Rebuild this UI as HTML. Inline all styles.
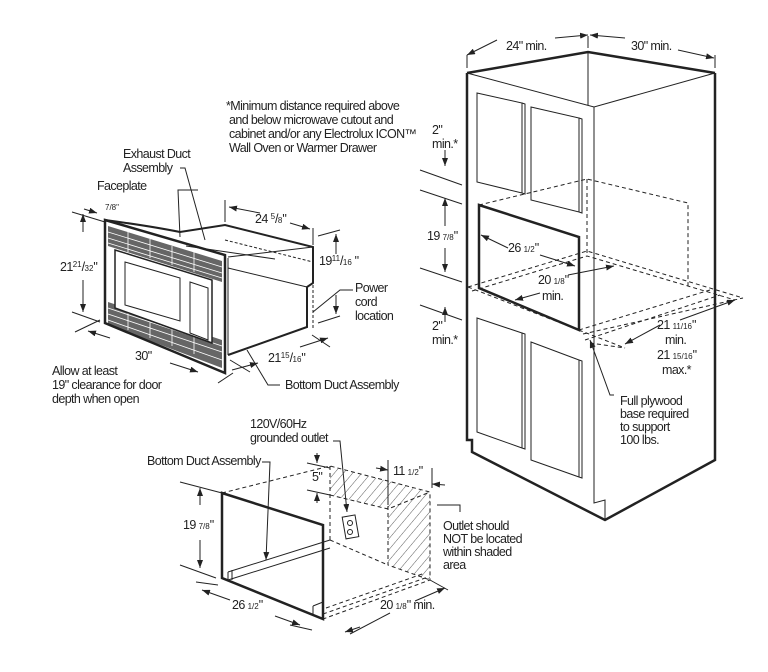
<!DOCTYPE html>
<html><head><meta charset="utf-8"><style>
html,body{margin:0;padding:0;background:#fff;}
svg{display:block}
text{font-family:"Liberation Sans",sans-serif;font-size:12.5px;letter-spacing:-0.6px;fill:#222}
.s{font-size:8px;letter-spacing:0}
</style></head><body>
<svg width="768" height="672" viewBox="0 0 768 672" xmlns="http://www.w3.org/2000/svg">
<defs>
<marker id="a" markerWidth="8" markerHeight="6" refX="8" refY="3" orient="auto-start-reverse"><path d="M0,0 L8,3 L0,6 z" fill="#222"/></marker>
<pattern id="h" width="7" height="7" patternUnits="userSpaceOnUse" patternTransform="rotate(40)"><line x1="0" y1="0" x2="0" y2="7" stroke="#333" stroke-width="0.8"/></pattern>
</defs>
<g fill="none" stroke="#222" stroke-width="1">
<!-- Cabinet -->
<path d="M467,73 L588,52 L715,73" stroke-width="2.5"/>
<path d="M467,73 L467,440 L472,440 L472,452 L605,520 L715,460 L715,73" stroke-width="2.5"/>
<path d="M467,73 L594,107 L715,73"/>
<path d="M594,107 L594,503 L605,500 L605,520"/>
<line x1="588" y1="52" x2="588" y2="105"/>
<path d="M477,93 L522,103 L522,193 L477,182 Z M522,103 L525,104 L525,194 L522,193"/>
<path d="M531,107 L579,118 L579,212 L531,200 Z M579,118 L582,119 L582,213 L579,212"/>
<path d="M477,318 L522,333 L522,448 L477,432 Z M522,333 L525,334 L525,449 L522,448"/>
<path d="M531,342 L579,360 L579,477 L531,460 Z M579,360 L582,361 L582,478 L579,477"/>
<path d="M479,205 L579,237 L579,330 L479,288 Z" stroke-width="2.5"/>
<g stroke-dasharray="4,3">
<path d="M479,205 L587,179 L688,203 L688,288"/>
<path d="M587,179 L587,255"/>
<path d="M468,287 L587,251 L743,298"/>
<path d="M472,291 L587,256 L735,300"/>
<path d="M579,330 L710,290"/>
<path d="M585,340 L720,295"/>
<path d="M583,334 L743,298"/>
<path d="M468,287 L625,348"/>
<path d="M590,343 L625,348"/>
</g>
<line x1="420" y1="170" x2="462" y2="185"/>
<line x1="420" y1="190" x2="462" y2="204"/>
<line x1="420" y1="268" x2="462" y2="282"/>
<line x1="420" y1="305" x2="462" y2="320"/>
<line x1="445" y1="150" x2="445" y2="166" marker-end="url(#a)"/>
<line x1="445" y1="226" x2="445" y2="198" marker-end="url(#a)"/>
<line x1="445" y1="248" x2="445" y2="272" marker-end="url(#a)"/>
<line x1="445" y1="322" x2="445" y2="307" marker-end="url(#a)"/>
<line x1="467" y1="55" x2="467" y2="68"/><line x1="588" y1="36" x2="588" y2="48"/><line x1="715" y1="55" x2="715" y2="68"/>
<line x1="497" y1="40" x2="467" y2="55" marker-end="url(#a)"/><line x1="555" y1="38" x2="588" y2="35" marker-end="url(#a)"/>
<line x1="625" y1="38" x2="590" y2="35" marker-end="url(#a)"/><line x1="678" y1="50" x2="714" y2="58" marker-end="url(#a)"/>
<line x1="508" y1="248" x2="481" y2="235" marker-end="url(#a)"/><line x1="540" y1="255" x2="575" y2="266" marker-end="url(#a)"/>
<line x1="568" y1="275" x2="614" y2="266" marker-end="url(#a)"/><line x1="540" y1="293" x2="515" y2="300" marker-end="url(#a)"/>
<line x1="680" y1="320" x2="735" y2="300" marker-end="url(#a)"/><line x1="660" y1="325" x2="625" y2="344" marker-end="url(#a)"/>
<path d="M614,395 L610,395 L590,340" marker-end="url(#a)"/>
<!-- Microwave -->
<path d="M108,226 L222,261 L222,282 L108,246 Z" fill="#666" stroke="none"/>
<path d="M108,302 L222,340 L222,368 L108,325 Z" fill="#666" stroke="none"/>
<g stroke="#fff" stroke-width="0.8">
<path d="M108,232 L222,267 M108,238 L222,273 M108,243 L222,278 M108,308 L222,346 M108,314 L222,352 M108,320 L222,360"/>
<path d="M128,232 L128,252 M150,239 L150,258 M172,246 L172,265 M194,252 L194,272 M128,308 L128,330 M150,315 L150,338 M172,322 L172,346 M194,330 L194,354"/>
</g>
<path d="M105,220 L225,255 L225,373 L105,323 Z" stroke-width="2.5"/>
<path d="M105,220 Q150,226 180,232 L225,225 L313,247 L313,283 L307,287 L307,327 L228,355" stroke-width="2"/>
<path d="M228,257 L313,247"/><path d="M228,268 L307,287"/><path d="M186,246 L275,259" />
<path d="M228,258 L228,355"/>
<path d="M115,250 L212,280 L212,343 L115,308 Z" stroke-width="1.5" fill="#fff"/>
<path d="M125,262 L180,278 L180,321 L125,305 Z"/>
<path d="M190,282 L208,288 L208,340 L190,333 Z"/>
<path d="M225,240 L313,262" stroke-dasharray="3,2"/>
<line x1="313" y1="285" x2="313" y2="330" stroke-dasharray="3,2"/>
<line x1="72" y1="212" x2="105" y2="222"/><line x1="72" y1="312" x2="100" y2="322"/>
<line x1="83" y1="232" x2="83" y2="214" marker-end="url(#a)"/><line x1="83" y1="280" x2="83" y2="312" marker-end="url(#a)"/>
<line x1="84" y1="209" x2="97" y2="213" marker-end="url(#a)"/>
<line x1="75" y1="332" x2="100" y2="320"/><line x1="218" y1="383" x2="233" y2="373"/>
<line x1="110" y1="338" x2="88" y2="331" marker-end="url(#a)"/><line x1="170" y1="363" x2="198" y2="372" marker-end="url(#a)"/>
<line x1="225" y1="200" x2="225" y2="222"/><line x1="313" y1="228" x2="313" y2="245"/>
<line x1="260" y1="213" x2="229" y2="207" marker-end="url(#a)"/><line x1="290" y1="223" x2="310" y2="229" marker-end="url(#a)"/>
<line x1="318" y1="236" x2="340" y2="230"/><line x1="318" y1="323" x2="340" y2="316"/>
<line x1="336" y1="254" x2="336" y2="234" marker-end="url(#a)"/><line x1="336" y1="295" x2="336" y2="314" marker-end="url(#a)"/>
<line x1="232" y1="370" x2="258" y2="363" marker-end="url(#a)"/><line x1="300" y1="347" x2="328" y2="338" marker-end="url(#a)"/>
<line x1="230" y1="360" x2="250" y2="372"/><line x1="312" y1="335" x2="330" y2="347"/>
<path d="M198,190 L178,190 L180,237"/><path d="M180,168 L185,168 L205,240"/>
<path d="M353,290 L340,290 L313,312"/>
<path d="M280,385 L268,385 L247,350"/>
<!-- Bottom diagram -->
<path d="M330,466 L430,492 L430,580 L388,565 L388,509 L330,495 Z" fill="url(#h)" stroke="none"/>
<path d="M222,493 L323,525 L323,619 L222,578 Z" stroke-width="2.5"/>
<g stroke-dasharray="4,3">
<path d="M222,493 L330,466 L430,492 L430,580 L323,619"/>
<path d="M330,466 L330,540"/><path d="M330,495 L388,509 L430,492"/>
<path d="M388,478 L388,565 L430,580"/>
<path d="M330,540 L388,565"/>
<path d="M323,614 L428,577 M326,608 L425,573"/>
</g>
<path d="M228,572 L330,540 M228,580 L330,548 M228,572 L228,580 M232,570 L232,580"/>
<path d="M313,606 L323,602 L323,612 M313,606 L313,614"/>
<rect x="344" y="516" width="13" height="22" transform="rotate(-10 350 527)"/>
<circle cx="350" cy="523" r="2.5"/><circle cx="350" cy="532" r="2.5"/>
<line x1="180" y1="482" x2="222" y2="493"/><line x1="180" y1="565" x2="216" y2="578"/>
<line x1="200" y1="505" x2="200" y2="488" marker-end="url(#a)"/><line x1="200" y1="540" x2="200" y2="568" marker-end="url(#a)"/>
<line x1="196" y1="582" x2="218" y2="585"/><line x1="290" y1="625" x2="312" y2="630"/>
<line x1="230" y1="600" x2="202" y2="590" marker-end="url(#a)"/><line x1="275" y1="616" x2="300" y2="625" marker-end="url(#a)"/>
<line x1="350" y1="634" x2="390" y2="613"/><line x1="430" y1="580" x2="448" y2="590"/>
<line x1="360" y1="627" x2="345" y2="632" marker-end="url(#a)"/><line x1="415" y1="601" x2="445" y2="588" marker-end="url(#a)"/>
<line x1="307" y1="463" x2="330" y2="468"/><line x1="307" y1="490" x2="330" y2="495"/>
<line x1="317" y1="453" x2="317" y2="463" marker-end="url(#a)"/><line x1="317" y1="503" x2="317" y2="493" marker-end="url(#a)"/>
<line x1="388" y1="460" x2="388" y2="505"/><line x1="432" y1="468" x2="432" y2="488"/>
<line x1="376" y1="468" x2="388" y2="470" marker-end="url(#a)"/><line x1="445" y1="485" x2="432" y2="484" marker-end="url(#a)"/>
<path d="M262,462 L270,462 L266,560" marker-end="url(#a)"/>
<path d="M333,441 L340,441 L347,512" marker-end="url(#a)"/>
<path d="M437,505 L460,505 L460,512"/>
</g>
<g>
<text x="226" y="110">*Minimum distance required above</text>
<text x="229" y="124">and below microwave cutout and</text>
<text x="229" y="138">cabinet and/or any Electrolux ICON™</text>
<text x="229" y="152">Wall Oven or Warmer Drawer</text>
<text x="123" y="158">Exhaust Duct</text><text x="123" y="172">Assembly</text>
<text x="97" y="190">Faceplate</text>
<text x="105" y="210" class="s">7/8"</text>
<text x="60" y="271">21<tspan class="s" dy="-4">21</tspan><tspan dy="4">/</tspan><tspan class="s">32</tspan>"</text>
<text x="255" y="223">24 <tspan class="s" dy="-4">5</tspan><tspan dy="4">/</tspan><tspan class="s">8</tspan>"</text>
<text x="319" y="265">19<tspan class="s" dy="-4">11</tspan><tspan dy="4">/</tspan><tspan class="s">16</tspan> "</text>
<text x="355" y="292">Power</text><text x="355" y="306">cord</text><text x="355" y="320">location</text>
<text x="135" y="360">30"</text>
<text x="268" y="362">21<tspan class="s" dy="-4">15</tspan><tspan dy="4">/</tspan><tspan class="s">16</tspan>"</text>
<text x="52" y="375">Allow at least</text><text x="52" y="389">19" clearance for door</text><text x="52" y="403">depth when open</text>
<text x="285" y="389">Bottom Duct Assembly</text>
<text x="506" y="50">24" min.</text><text x="631" y="50">30" min.</text>
<text x="432" y="134">2"</text><text x="432" y="148">min.*</text>
<text x="427" y="240">19 <tspan class="s">7/8</tspan>"</text>
<text x="508" y="252">26 <tspan class="s">1/2</tspan>"</text>
<text x="538" y="284">20 <tspan class="s">1/8</tspan>"</text><text x="542" y="300">min.</text>
<text x="432" y="330">2"</text><text x="432" y="344">min.*</text>
<text x="657" y="329">21 <tspan class="s">11/16</tspan>"</text><text x="665" y="344">min.</text>
<text x="657" y="359">21 <tspan class="s">15/16</tspan>"</text><text x="662" y="374">max.*</text>
<text x="620" y="405">Full plywood</text><text x="620" y="418">base required</text><text x="620" y="431">to support</text><text x="620" y="444">100 lbs.</text>
<text x="250" y="428">120V/60Hz</text><text x="250" y="442">grounded outlet</text>
<text x="147" y="465">Bottom Duct Assembly</text>
<text x="312" y="481">5"</text>
<text x="393" y="475">11 <tspan class="s">1/2</tspan>"</text>
<text x="183" y="529">19 <tspan class="s">7/8</tspan>"</text>
<text x="443" y="530">Outlet should</text><text x="443" y="543">NOT be located</text><text x="443" y="556">within shaded</text><text x="443" y="569">area</text>
<text x="232" y="609">26 <tspan class="s">1/2</tspan>"</text>
<text x="380" y="609">20 <tspan class="s">1/8</tspan>" min.</text>
</g>
</svg>
</body></html>
